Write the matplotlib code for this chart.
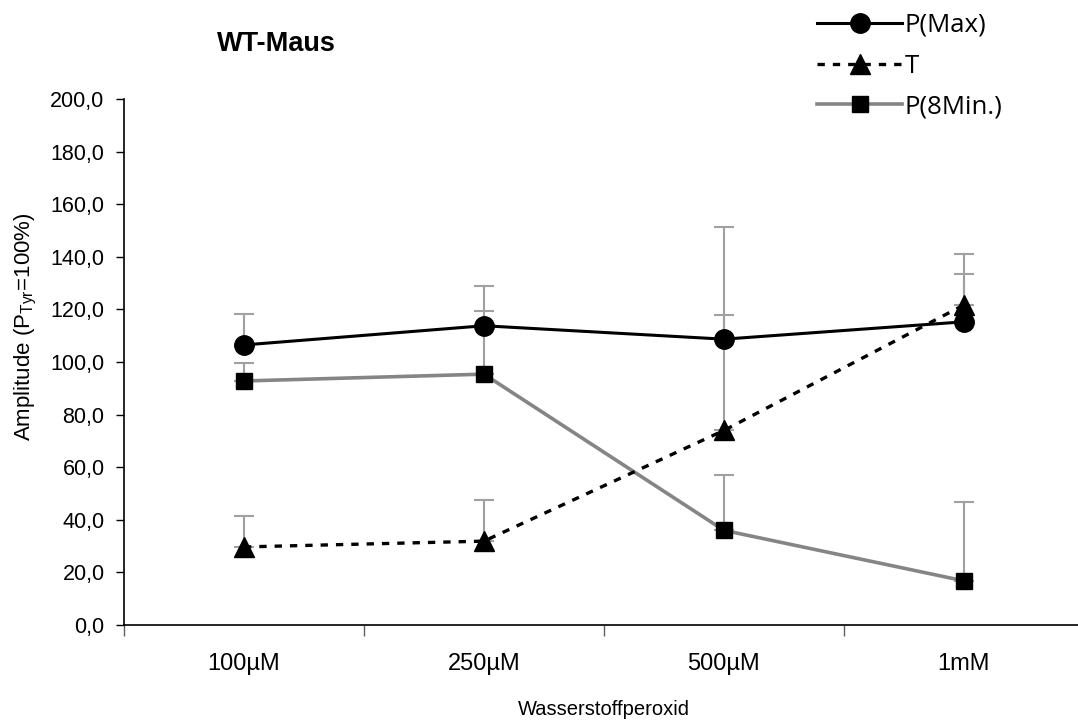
import numpy as np
import matplotlib.pyplot as plt
from matplotlib.lines import Line2D
from matplotlib.ticker import FuncFormatter

# Mittelwerte und obere Fehlerbalken je Konzentration
konzentration = ['100µM', '250µM', '500µM', '1mM']
p_max = [106.5, 113.8, 108.7, 115.3]
p_max_oben = [118.1, 129.0, 117.9, 133.6]
t_wert = [29.7, 31.9, 74.0, 121.7]
t_oben = [41.4, 47.5, 151.3, 141.0]
p_8min = [92.8, 95.4, 36.0, 16.8]
p_8min_oben = [99.6, 119.4, 56.9, 46.8]

plt.rcParams['font.family'] = ['Liberation Sans', 'DejaVu Sans']
plt.rcParams['mathtext.fontset'] = 'custom'
plt.rcParams['mathtext.rm'] = 'Liberation Sans'

fig = plt.figure(figsize=(10.78, 7.22), dpi=100)
ax = fig.add_axes([0.1150, 0.1343, 0.8905, 0.7285])

x = np.arange(len(konzentration)) + 0.5
grau = '#858585'
fehler = '#a0a0a0'


def fehlerbalken(werte, oben):
  plus = np.array(oben) - np.array(werte)
  ax.errorbar(x, werte, yerr=[np.zeros_like(plus), plus], fmt='none',
              ecolor=fehler, elinewidth=1.5, capsize=7, capthick=1.5, zorder=1)


fehlerbalken(p_max, p_max_oben)
fehlerbalken(t_wert, t_oben)
fehlerbalken(p_8min, p_8min_oben)

ax.plot(x, p_8min, color=grau, lw=2.6, marker='s', ms=11,
        mfc='black', mec='black', zorder=3)
ax.plot(x, t_wert, color='black', lw=2.4, dashes=(2.2, 2.4), marker='^', ms=14.5,
        mfc='black', mec='black', zorder=4)
ax.plot(x, p_max, color='black', lw=2.2, marker='o', ms=14,
        mfc='black', mec='black', zorder=5)

ax.set_xlim(0, 4)
ax.set_ylim(0, 200)
ax.set_yticks(np.arange(0, 201, 20))
ax.yaxis.set_major_formatter(FuncFormatter(lambda v, p: ('%.1f' % v).replace('.', ',')))
ax.set_xticks(x)
ax.set_xticklabels(konzentration)
ax.set_xticks(np.arange(0, 5), minor=True)
ax.tick_params(axis='x', which='major', length=0, pad=20, labelsize=17)
ax.tick_params(axis='x', which='minor', length=8, width=1, color='#606060')
ax.tick_params(axis='y', length=6, width=1, labelsize=15.5, pad=8)

for s in ['top', 'right']:
  ax.spines[s].set_visible(False)
for s in ['left', 'bottom']:
  ax.spines[s].set_linewidth(1.2)

ax.set_xlabel('Wasserstoffperoxid', fontsize=14.5, labelpad=18)
ax.set_ylabel('Amplitude (P$_{\\mathrm{Tyr}}$=100%)', fontsize=16)
ax.yaxis.set_label_coords(-0.089, 0.568)

fig.text(0.201, 0.939, 'WT-Maus', fontsize=19.5, fontweight='bold', va='center')

griffe = [
  Line2D([], [], color='black', lw=2.2, marker='o', ms=14, mfc='black'),
  Line2D([], [], color='black', lw=2.4, dashes=(2.2, 2.4), marker='^', ms=14.5, mfc='black'),
  Line2D([], [], color=grau, lw=2.6, marker='s', ms=11, mfc='black', mec='black'),
]
fig.legend(griffe, ['P(Max)', 'T', 'P(8Min.)'], loc='upper left',
           bbox_to_anchor=(0.758, 0.982), frameon=False, handlelength=3.3,
           labelspacing=0.61, handletextpad=0.1, borderpad=0, borderaxespad=0,
           prop={'family': ['Open Sans', 'DejaVu Sans'], 'size': 18.5})

fig.savefig('out.png', dpi=100)
